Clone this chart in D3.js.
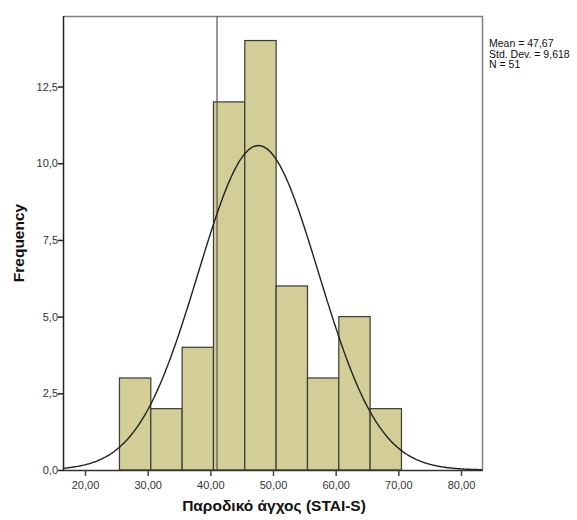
<!DOCTYPE html>
<html>
<head>
<meta charset="utf-8">
<script src="https://cdn.jsdelivr.net/npm/d3@7"></script>
<style>
  body { margin: 0; background: #fff; }
  text { font-family: "Liberation Sans", Arial, sans-serif; }
</style>
</head>
<body>
<div id="chart"></div>
<script>
// histogram data: bins of width 5 starting at 25,5
const binStarts = [25.5, 30.5, 35.5, 40.5, 45.5, 50.5, 55.5, 60.5, 65.5];
const counts = [3, 2, 4, 12, 14, 6, 3, 5, 2];
const binWidth = 5;
const xTicks = [20, 30, 40, 50, 60, 70, 80];
const yTicks = [0, 2.5, 5, 7.5, 10, 12.5];
const refLine = 41.07;
const mean = 47.67, sd = 9.618, n = 51;
const statLines = ["Mean = 47,67", "Std. Dev. = 9,618", "N = 51"];

const width = 577, height = 520;
const plotL = 64, plotR = 482, plotT = 16, plotB = 470;

const x = d3.scaleLinear().domain([16.65, 83.35]).range([plotL, plotR]);
const y = d3.scaleLinear().domain([0, 14.8]).range([plotB, plotT]);

const fmtX = d => d3.format(".2f")(d).replace(".", ",");
const fmtY = d => d3.format(".1f")(d).replace(".", ",");

const svg = d3.select("#chart").append("svg")
    .attr("width", width)
    .attr("height", height);

svg.append("defs").append("clipPath")
    .attr("id", "plot")
    .append("rect")
    .attr("x", plotL).attr("y", plotT)
    .attr("width", plotR - plotL).attr("height", plotB - plotT);

// frame top + right (grey)
svg.append("path")
    .attr("d", `M${plotL},${plotT + 0.5}H${plotR + 0.5}V${plotB}`)
    .attr("fill", "none")
    .attr("stroke", "#808080")
    .attr("stroke-width", 1.5);

// bars
svg.append("g")
    .selectAll("rect")
    .data(binStarts)
    .join("rect")
    .attr("x", d => x(d))
    .attr("y", (d, i) => y(counts[i]))
    .attr("width", d => x(d + binWidth) - x(d))
    .attr("height", (d, i) => y(0) - y(counts[i]))
    .attr("fill", "#d3ce98")
    .attr("stroke", "#3c3c30")
    .attr("stroke-width", 1.2);

// reference line
svg.append("line")
    .attr("x1", x(refLine)).attr("x2", x(refLine))
    .attr("y1", plotT).attr("y2", plotB)
    .attr("stroke", "#555")
    .attr("stroke-width", 1.2);

// normal curve
const curveX = d3.range(16.6, 83.4, 0.2);
const dens = v => n * binWidth / (sd * Math.sqrt(2 * Math.PI)) * Math.exp(-0.5 * ((v - mean) / sd) ** 2);
svg.append("path")
    .datum(curveX)
    .attr("clip-path", "url(#plot)")
    .attr("d", d3.line().x(d => x(d)).y(d => y(dens(d))).curve(d3.curveBasis))
    .attr("fill", "none")
    .attr("stroke", "#222")
    .attr("stroke-width", 1.4);

// axes
const xAxis = svg.append("g")
    .attr("transform", `translate(0,${plotB})`)
    .call(d3.axisBottom(x).tickValues(xTicks).tickFormat(fmtX).tickSizeOuter(0).tickSize(6));
xAxis.select(".domain").attr("stroke", "#333").attr("stroke-width", 1.5)
    .attr("d", `M${plotL},0.5H${plotR + 1}`);
xAxis.selectAll(".tick line").attr("stroke", "#444").attr("stroke-width", 1.5);
xAxis.selectAll(".tick text")
    .attr("font-size", 11).attr("fill", "#333")
    .attr("font-family", "Liberation Sans, Arial, sans-serif")
    .attr("dy", "0.95em");

const yAxis = svg.append("g")
    .attr("transform", `translate(${plotL},0)`)
    .call(d3.axisLeft(y).tickValues(yTicks).tickFormat(fmtY).tickSizeOuter(0).tickSize(6));
yAxis.select(".domain").attr("stroke", "#222").attr("stroke-width", 1.5)
    .attr("d", `M-0.5,${plotT}V${plotB}`);
yAxis.selectAll(".tick line").attr("stroke", "#222").attr("stroke-width", 1.5);
yAxis.selectAll(".tick text")
    .attr("font-size", 11).attr("fill", "#333")
    .attr("font-family", "Liberation Sans, Arial, sans-serif")
    .attr("x", -6);

// axis titles
svg.append("text")
    .attr("x", 274)
    .attr("y", 511)
    .attr("text-anchor", "middle")
    .attr("font-size", 15.5)
    .attr("font-weight", "bold")
    .attr("fill", "#111")
    .text("Παροδικό άγχος (STAI-S)");

svg.append("text")
    .attr("transform", `translate(24,243) rotate(-90)`)
    .attr("text-anchor", "middle")
    .attr("font-size", 15.5)
    .attr("font-weight", "bold")
    .attr("fill", "#111")
    .text("Frequency");

// stats box
svg.append("g")
    .selectAll("text")
    .data(statLines)
    .join("text")
    .attr("x", 489)
    .attr("y", (d, i) => 47 + i * 10.5)
    .attr("font-size", 10.5)
    .attr("fill", "#111")
    .text(d => d);
</script>
</body>
</html>
